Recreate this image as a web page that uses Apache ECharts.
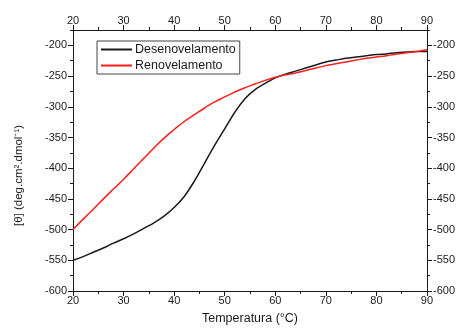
<!DOCTYPE html>
<html>
<head>
<meta charset="utf-8">
<script src="https://cdn.jsdelivr.net/npm/echarts@6/dist/echarts.min.js"></script>
<style>html,body{margin:0;padding:0;background:#fff}#c{width:458px;height:330px}</style>
</head>
<body>
<div id="c"></div>
<script>
const seriesNames = ['Desenovelamento', 'Renovelamento'];
const temps = [20,22,24,26,28,30,32,34,36,38,40,42,44,46,48,50,52,54,56,58,60,62,64,66,68,70,72,74,76,78,80,82,84,86,88,90];
const desenVals = [-550,-544,-537,-530,-522,-515,-507,-498,-489,-478,-464,-446,-421,-392,-363,-336,-309,-287,-272,-262,-253,-247,-242,-237,-232,-227,-224,-221,-219,-217,-215,-214,-212,-211,-210,-210];
const renVals = [-500,-483,-467,-450,-434,-418,-401,-384,-367,-351,-337,-324,-313,-302,-292,-284,-276,-269,-263,-257,-252,-248,-245,-241,-237,-233,-230,-227,-224,-221,-219,-217,-214,-212,-210,-207];
const xTicks = [20,30,40,50,60,70,80,90];
const yTicks = [-600,-550,-500,-450,-400,-350,-300,-250,-200];
const yMinorTicks = [-575,-525,-475,-425,-375,-325,-275,-225,-175];

const txt = '#1a1a1a';
const font = 'Liberation Sans, Arial, sans-serif';
function xAx(pos, showName) {
  return {
    type: 'value', position: pos, min: 20, max: 90, interval: 10,
    name: showName ? 'Temperatura (°C)' : '', nameLocation: 'middle', nameGap: 21,
    nameTextStyle: {color: txt, fontSize: 12.5, fontFamily: font},
    axisLine: {show: true, onZero: false, lineStyle: {color: txt, width: 1}},
    axisTick: {show: true, inside: false, length: 5, lineStyle: {color: txt}},
    minorTick: {show: true, splitNumber: 2, length: 3, lineStyle: {color: txt}},
    axisLabel: {color: txt, fontSize: 11, fontFamily: font, margin: 4},
    splitLine: {show: false}
  };
}
function yAxMajor(pos, showName) {
  return {
    type: 'value', position: pos, min: -600, max: -175, interval: 25,
    name: showName ? '[θ] (deg.cm².dmol⁻¹)' : '', nameLocation: 'middle', nameGap: 48, nameRotate: 90,
    nameTextStyle: {color: txt, fontSize: 11.5, fontFamily: font, padding: [0, 30, 0, 0]},
    axisLine: {show: true, onZero: false, lineStyle: {color: txt, width: 1}},
    axisTick: {show: true, inside: false, length: 5, customValues: yTicks, lineStyle: {color: txt}},
    axisLabel: {color: txt, fontSize: 11, fontFamily: font, margin: 6, customValues: yTicks},
    splitLine: {show: false}
  };
}
function yAxMinor(pos) {
  return {
    type: 'value', position: pos, min: -600, max: -175, interval: 25,
    axisLine: {show: false},
    axisTick: {show: true, inside: false, length: 3, customValues: yMinorTicks, lineStyle: {color: txt}},
    axisLabel: {show: false},
    splitLine: {show: false}
  };
}

const chart = echarts.init(document.getElementById('c'));
chart.setOption({
  animation: false,
  backgroundColor: '#fff',
  grid: {left: 73, right: 31, top: 30, bottom: 39, containLabel: false},
  legend: {
    orient: 'vertical', left: 97, top: 41,
    data: seriesNames,
    itemWidth: 31, itemHeight: 2, itemGap: 3, icon: 'rect',
    borderColor: '#444', borderWidth: 1, padding: [2, 4, 2, 4],
    textStyle: {color: txt, fontSize: 12.5, fontFamily: font, padding: [0,0,0,-2]}
  },
  xAxis: [xAx('bottom', true), xAx('top', false)],
  yAxis: [yAxMajor('left', true), yAxMinor('left'), yAxMajor('right', false), yAxMinor('right')],
  series: [
    {name: seriesNames[0], type: 'line', smooth: 0.4, showSymbol: false, xAxisIndex: 0, yAxisIndex: 0,
     data: temps.map((t, i) => [t, desenVals[i]]), lineStyle: {color: '#1a1a1a', width: 1.5}, itemStyle: {color: '#1a1a1a'}},
    {name: seriesNames[1], type: 'line', smooth: 0.4, showSymbol: false, xAxisIndex: 0, yAxisIndex: 0,
     data: temps.map((t, i) => [t, renVals[i]]), lineStyle: {color: '#ff1f1f', width: 1.5}, itemStyle: {color: '#ff1f1f'}}
  ]
});
</script>
</body>
</html>
